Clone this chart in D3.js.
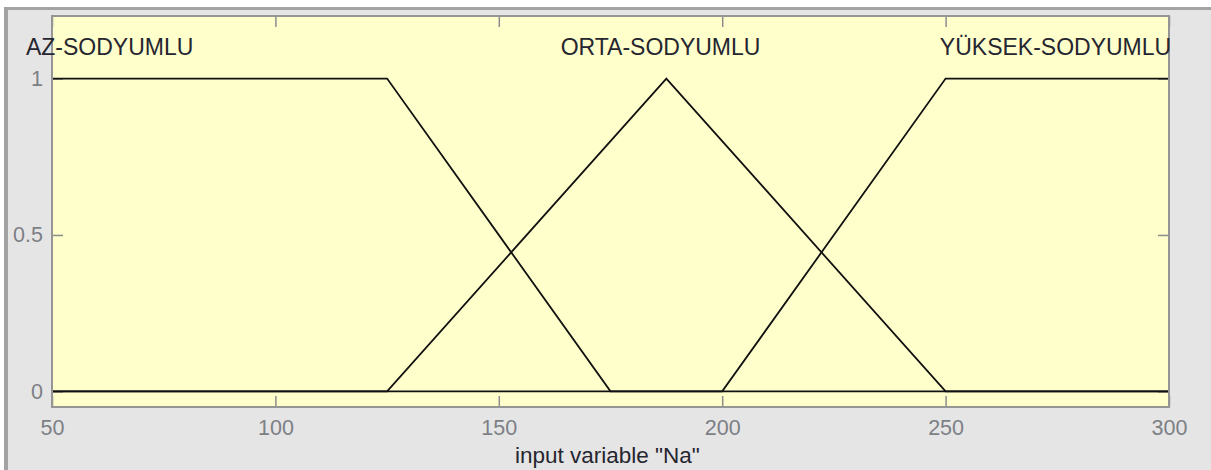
<!DOCTYPE html>
<html>
<head>
<meta charset="utf-8">
<script src="https://cdn.jsdelivr.net/npm/d3@7"></script>
<style>
  html, body { margin: 0; padding: 0; background: #ffffff; }
  svg { display: block; }
  text { font-family: "Liberation Sans", Arial, Helvetica, sans-serif; }
</style>
</head>
<body>
<svg id="chart" width="1211" height="470"></svg>
<script>
// ---- data ----
const xTicks = [50, 100, 150, 200, 250, 300];
const yTicks = [0, 0.5, 1];
const xDomain = [50, 300];
const yDomain = [-0.05, 1.2];
const mfNames = ["AZ-SODYUMLU", "ORTA-SODYUMLU", "YÜKSEK-SODYUMLU"];
const mfLabelX = [62.9, 186.2, 274.6];
const mfLabelY = 1.1;
// membership function vertices (x in Na units, y in membership degree)
const azX = [50, 125, 175, 300];
const azY = [1, 1, 0, 0];
const ortaX = [50, 125, 187.5, 250, 300];
const ortaY = [0, 0, 1, 0, 0];
const yuksekX = [50, 200, 250, 300];
const yuksekY = [0, 0, 1, 1];
const xLabel = 'input variable "Na"';
const xLabelAt = 174.3;

// ---- drawing ----
const svg = d3.select("#chart");
const W = 1211, H = 470;
const plot = { left: 52, top: 16, right: 1169, bottom: 407 };

// window / figure background
svg.append("rect").attr("x", 0).attr("y", 0).attr("width", W).attr("height", H).attr("fill", "#ffffff");
svg.append("rect").attr("x", 4).attr("y", 7).attr("width", W - 4).attr("height", H - 7).attr("fill", "#a3a3a3");
svg.append("rect").attr("x", 8).attr("y", 10).attr("width", W - 8).attr("height", H - 10).attr("fill", "#e5e5e5");

const x = d3.scaleLinear().domain(xDomain).range([plot.left, plot.right]);
const y = d3.scaleLinear().domain(yDomain).range([plot.bottom, plot.top]);

// axes background
svg.append("rect")
  .attr("x", plot.left).attr("y", plot.top)
  .attr("width", plot.right - plot.left).attr("height", plot.bottom - plot.top)
  .attr("fill", "#ffffcc");

const tickLen = 11;
const tickColor = "#8c8c8c";
const labelColor = "#7d7f86";

// bottom axis (inward ticks)
const xAxisB = svg.append("g").attr("transform", `translate(0,${plot.bottom})`)
  .call(d3.axisBottom(x).tickValues(xTicks).tickSize(-tickLen).tickPadding(13).tickFormat(d3.format("d")));
// top axis (ticks only)
const xAxisT = svg.append("g").attr("transform", `translate(0,${plot.top})`)
  .call(d3.axisTop(x).tickValues(xTicks).tickSize(-tickLen).tickFormat(""));
// left axis
const yAxisL = svg.append("g").attr("transform", `translate(${plot.left},0)`)
  .call(d3.axisLeft(y).tickValues(yTicks).tickSize(-tickLen).tickPadding(9).tickFormat(d => d === 0.5 ? "0.5" : d3.format("d")(d)));
// right axis (ticks only)
const yAxisR = svg.append("g").attr("transform", `translate(${plot.right},0)`)
  .call(d3.axisRight(y).tickValues(yTicks).tickSize(-tickLen).tickFormat(""));

[xAxisB, xAxisT, yAxisL, yAxisR].forEach(g => {
  g.select(".domain").remove();
  g.selectAll(".tick line").attr("stroke", tickColor).attr("stroke-width", 1.5);
  g.selectAll(".tick text").attr("fill", labelColor).attr("font-size", 21.5);
});

// membership function lines
const line = d3.line().x(d => x(d[0])).y(d => y(d[1]));
const mfs = [
  d3.zip(azX, azY),
  d3.zip(ortaX, ortaY),
  d3.zip(yuksekX, yuksekY)
];
svg.append("g").selectAll("path").data(mfs).join("path")
  .attr("d", line)
  .attr("fill", "none")
  .attr("stroke", "#111111")
  .attr("stroke-width", 1.8)
  .attr("stroke-linejoin", "miter");

// axes frame
svg.append("rect")
  .attr("x", plot.left).attr("y", plot.top)
  .attr("width", plot.right - plot.left).attr("height", plot.bottom - plot.top)
  .attr("fill", "none").attr("stroke", "#959595").attr("stroke-width", 2);

// MF names
svg.append("g").selectAll("text").data(mfNames).join("text")
  .attr("x", (d, i) => x(mfLabelX[i]))
  .attr("y", y(mfLabelY))
  .attr("dy", "0.33em")
  .attr("text-anchor", "middle")
  .attr("font-size", 23)
  .attr("fill", "#262630")
  .text(d => d);

// x label
svg.append("text")
  .attr("x", x(xLabelAt))
  .attr("y", 463)
  .attr("text-anchor", "middle")
  .attr("font-size", 22.5)
  .attr("fill", "#262630")
  .text(xLabel);
</script>
</body>
</html>
